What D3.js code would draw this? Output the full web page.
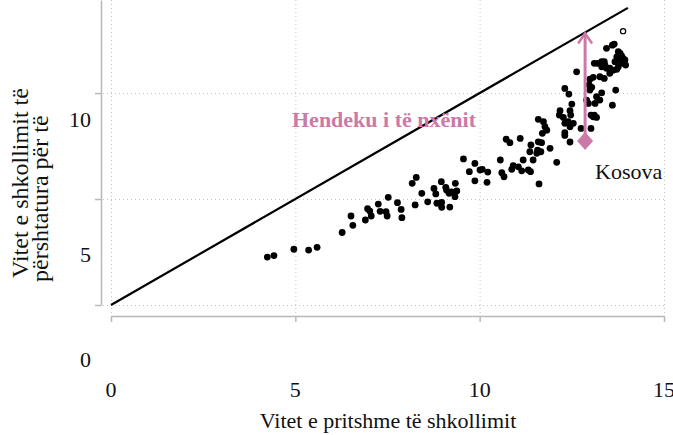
<!DOCTYPE html>
<html><head><meta charset="utf-8">
<script src="https://cdn.jsdelivr.net/npm/d3@7"></script>
<style>body{margin:0;background:#fff}svg{display:block}text{font-family:"Liberation Serif","Times New Roman",serif}</style>
</head><body><svg id="c" width="673" height="435"></svg>
<script>
// Expected years of schooling (x) vs learning-adjusted years of schooling (y)
const schoolYears = [4.24,4.42,4.96,5.36,5.59,6.27,6.51,6.56,6.90,6.96,7.02,7.06,7.25,7.30,7.46,7.49,7.52,7.77,7.87,7.89,
8.17,8.28,8.25,8.43,8.59,8.76,8.81,8.84,8.97,8.96,9.08,9.10,9.17,9.24,9.33,9.34,9.38,8.97,9.19,9.56,9.72,9.87,9.87,10.01,10.07,10.20,10.22,10.56,10.60,10.66,10.72,10.82,10.87,10.91,11.05,11.10,11.14,11.18,
11.32,11.38,11.39,11.36,11.45,11.55,11.57,11.59,11.68,11.66,11.61,11.59,11.73,11.77,11.82,11.70,11.91,12.09,12.16,12.18,12.27,12.31,12.31,12.40,12.45,12.54,12.45,12.31,12.50,12.42,12.31,12.75,13.02,12.90,13.13,13.02,13.11,13.17,13.31,
13.44,13.60,13.65,13.76,13.81,13.72,13.85,13.89,13.94,13.76,13.67,13.96,13.85,13.76,13.11,13.20,13.31,13.38,13.40,13.31,13.44,13.53,13.62,13.72,13.26,13.38,13.53,12.63,13.08,12.99,12.97,13.04,12.99,13.69,13.26,12.95,13.60,12.45,12.47,13.08,13.17];
const learningYears = [2.26,2.33,2.63,2.59,2.72,3.42,4.20,3.76,4.01,4.54,4.43,4.20,4.76,4.42,4.40,4.20,5.08,4.83,4.51,4.12,
5.74,6.02,4.72,5.27,4.87,5.50,5.24,4.80,4.84,5.82,5.55,5.42,5.27,5.34,5.11,5.74,5.38,4.61,4.62,6.89,6.29,6.68,5.86,6.37,6.40,5.79,6.27,6.84,6.24,6.05,7.82,7.66,6.40,6.57,6.52,7.86,6.33,6.84,
6.37,6.29,7.55,7.23,6.84,7.16,7.31,7.70,7.66,7.23,5.71,8.76,8.65,8.41,8.25,8.10,7.39,6.73,8.96,9.17,8.85,8.57,8.00,8.65,8.41,8.57,7.69,8.13,9.48,9.95,10.22,8.33,8.33,9.67,9.51,8.96,8.96,9.83,10.01,
12.11,12.26,12.31,11.95,11.87,11.71,11.75,11.64,11.56,11.59,11.48,11.32,11.40,11.24,11.40,11.40,11.48,11.48,11.32,11.24,11.17,11.17,11.08,11.12,10.77,10.69,10.93,11.00,10.74,10.65,10.38,10.27,10.14,10.14,9.67,9.51,9.43,9.17,8.96,8.88,8.85];
const hollowPoint = [13.89, 12.92];
const kosova = {name: "Kosova", x: 12.86, y: 7.74};
const parityLine = [[0, 0], [14.02, 14.02]];
const xTicks = [0, 5, 10, 15];
const yTicks = [0, 5, 10];
const xTitle = "Vitet e pritshme të shkollimit";
const yTitleLines = ["Vitet e shkollimit të", "përshtatura për të"];
const gapLabel = "Hendeku i të nxënit";

const pink = "#CC79A7";
const svg = d3.select("#c");
const x = d3.scaleLinear().domain([0, 15]).range([111, 664]);
const y = d3.scaleLinear().domain([0, 14.39]).range([305, 0]);

// grid
const grid = svg.append("g").attr("stroke", "#c4c4c4").attr("stroke-width", 1).attr("stroke-dasharray", "1,3");
grid.selectAll("line.h").data(yTicks).join("line").attr("class","h")
  .attr("x1", 103).attr("x2", x(15)).attr("y1", d => y(d) + 0.5).attr("y2", d => y(d) + 0.5);
grid.selectAll("line.v").data(xTicks).join("line").attr("class","v")
  .attr("x1", d => x(d) + 0.5).attr("x2", d => x(d) + 0.5).attr("y1", 0).attr("y2", 316);

// axes
const yAxis = svg.append("g").attr("transform", "translate(101,0)")
  .call(d3.axisLeft(y).tickValues(yTicks).tickSize(6).tickSizeOuter(0).tickFormat(""));
const xAxis = svg.append("g").attr("transform", "translate(0,316)")
  .call(d3.axisBottom(x).tickValues(xTicks).tickSize(6).tickSizeOuter(0).tickFormat(""));
[yAxis, xAxis].forEach(a => { a.selectAll("path,line").attr("stroke", "#b8b8b8").attr("stroke-width", 1.5); });

// tick labels
const yLabelShift = {0: 62, 5: 63, 10: 34};
svg.append("g").selectAll("text").data(yTicks).join("text")
  .attr("x", 91).attr("y", d => y(d) + yLabelShift[d]).attr("text-anchor", "end")
  .attr("font-size", 22).attr("fill", "#111").text(d => d);
svg.append("g").selectAll("text").data(xTicks).join("text")
  .attr("x", d => x(d)).attr("y", 397).attr("text-anchor", "middle")
  .attr("font-size", 22).attr("fill", "#111").text(d => d);

// titles
svg.append("text").attr("x", 388).attr("y", 428).attr("text-anchor", "middle")
  .attr("font-size", 22).attr("fill", "#111").text(xTitle);
const yt = [{x: 28, y: 278}, {x: 48, y: 282}];
svg.append("g").selectAll("text").data(yTitleLines).join("text")
  .attr("transform", (d, i) => `translate(${yt[i].x},${yt[i].y}) rotate(-90)`)
  .attr("font-size", 24).attr("fill", "#111").text(d => d);

// parity line
svg.append("path").datum(parityLine)
  .attr("d", d3.line().x(d => x(d[0])).y(d => y(d[1])))
  .attr("stroke", "#000").attr("stroke-width", 2.2).attr("fill", "none");

// points
svg.append("g").selectAll("circle").data(schoolYears.map((v, i) => [v, learningYears[i]])).join("circle")
  .attr("cx", d => x(d[0])).attr("cy", d => y(d[1])).attr("r", 3.4).attr("fill", "#000");
svg.append("circle").attr("cx", x(hollowPoint[0])).attr("cy", y(hollowPoint[1])).attr("r", 2.6)
  .attr("fill", "#fff").attr("stroke", "#000").attr("stroke-width", 1.2);

// gap arrow
const kx = x(kosova.x), ky = y(kosova.y), topY = y(kosova.x);
svg.append("line").attr("x1", kx).attr("x2", kx).attr("y1", ky).attr("y2", topY + 1)
  .attr("stroke", pink).attr("stroke-width", 3);
svg.append("path").attr("d", `M${kx - 7},${topY + 11}L${kx},${topY + 1}L${kx + 7},${topY + 11}`)
  .attr("stroke", pink).attr("stroke-width", 2.5).attr("fill", "none");
svg.append("path").attr("d", `M${kx},${ky - 9}L${kx + 8},${ky}L${kx},${ky + 9}L${kx - 8},${ky}Z`)
  .attr("fill", pink);

// labels
svg.append("text").attr("x", 292).attr("y", 127).attr("font-size", 22).attr("font-weight", "bold")
  .attr("fill", pink).text(gapLabel);
svg.append("text").attr("x", 595).attr("y", 179).attr("font-size", 22).attr("fill", "#111").text(kosova.name);
</script></body></html>
